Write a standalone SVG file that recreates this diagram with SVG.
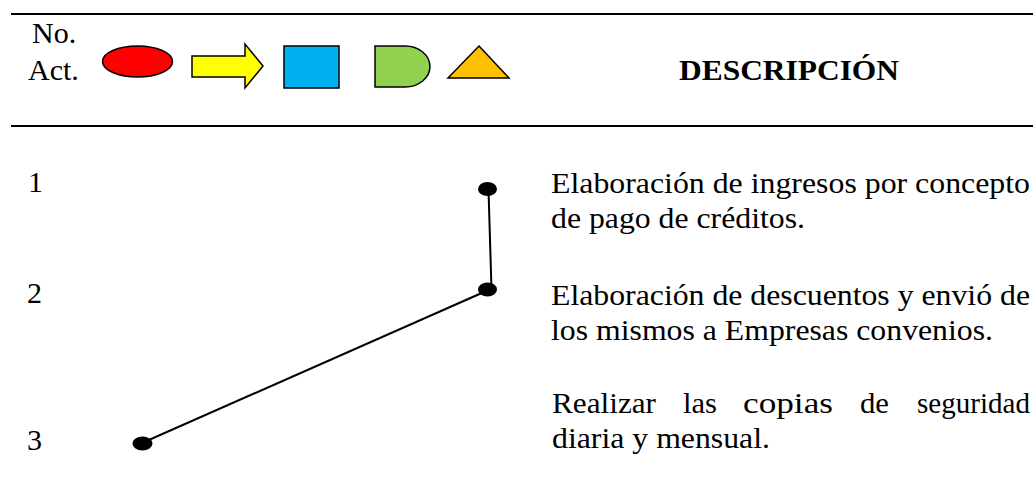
<svg xmlns="http://www.w3.org/2000/svg" width="1033" height="489" viewBox="0 0 1033 489">
<style>
.t{font-family:"Liberation Serif","Times New Roman",Times,serif;font-size:30px;fill:#000}
.b{font-weight:bold}
.sym{stroke:#000;stroke-width:1.5}
.rule{stroke:#000;stroke-width:2}
.conn{stroke:#000;stroke-width:2;fill:none}
.dot{fill:#000}
</style>
<rect width="1033" height="489" fill="#fff"/>
<g id="header">
<line class="rule" x1="11" y1="14" x2="1033" y2="14"/>
<line class="rule" x1="11" y1="126" x2="1033" y2="126"/>
<text class="t" x="32" y="43">No.</text>
<text class="t" x="28" y="80">Act.</text>
<ellipse class="sym" cx="137.5" cy="61.5" rx="35" ry="15.5" fill="#FF0000"/>
<polygon class="sym" points="192,56 245,56 245,44 263,66 245,88 245,77 192,77" fill="#FFFF00"/>
<rect class="sym" x="284" y="46" width="55" height="42" fill="#00B0F0"/>
<path class="sym" d="M375,46 H405 A25,20.5 0 0 1 405,87 H375 Z" fill="#92D050"/>
<polygon class="sym" points="479,46 509,78 448,78" fill="#FFC000"/>
<text class="t b" x="679" y="80" textLength="220" lengthAdjust="spacingAndGlyphs">DESCRIPCIÓN</text>
</g>
<g id="connectors">
<line class="conn" x1="488.5" y1="190" x2="491.5" y2="289"/>
<line class="conn" x1="142" y1="443" x2="484" y2="292"/>
</g>
<g id="node1">
<text class="t" x="28" y="192">1</text>
<ellipse class="dot" cx="487.5" cy="189" rx="9.5" ry="7"/>
<text class="t" x="551" y="193" textLength="479" lengthAdjust="spacingAndGlyphs">Elaboración de ingresos por concepto</text>
<text class="t" x="551" y="228" textLength="254" lengthAdjust="spacingAndGlyphs">de pago de créditos.</text>
</g>
<g id="node2">
<text class="t" x="27" y="303">2</text>
<ellipse class="dot" cx="487.5" cy="289.5" rx="9.5" ry="7"/>
<text class="t" x="551" y="305" textLength="479" lengthAdjust="spacingAndGlyphs">Elaboración de descuentos y envió de</text>
<text class="t" x="551" y="340" textLength="442" lengthAdjust="spacingAndGlyphs">los mismos a Empresas convenios.</text>
</g>
<g id="node3">
<text class="t" x="27" y="450">3</text>
<ellipse class="dot" cx="142.5" cy="443.5" rx="10" ry="7"/>
<text class="t" y="413"><tspan x="552" textLength="104" lengthAdjust="spacingAndGlyphs">Realizar</tspan><tspan x="683" textLength="34" lengthAdjust="spacingAndGlyphs">las</tspan><tspan x="743" textLength="90" lengthAdjust="spacingAndGlyphs">copias</tspan><tspan x="860" textLength="29" lengthAdjust="spacingAndGlyphs">de</tspan><tspan x="917" textLength="113" lengthAdjust="spacingAndGlyphs">seguridad</tspan></text>
<text class="t" x="552" y="448" textLength="218" lengthAdjust="spacingAndGlyphs">diaria y mensual.</text>
</g>
</svg>
